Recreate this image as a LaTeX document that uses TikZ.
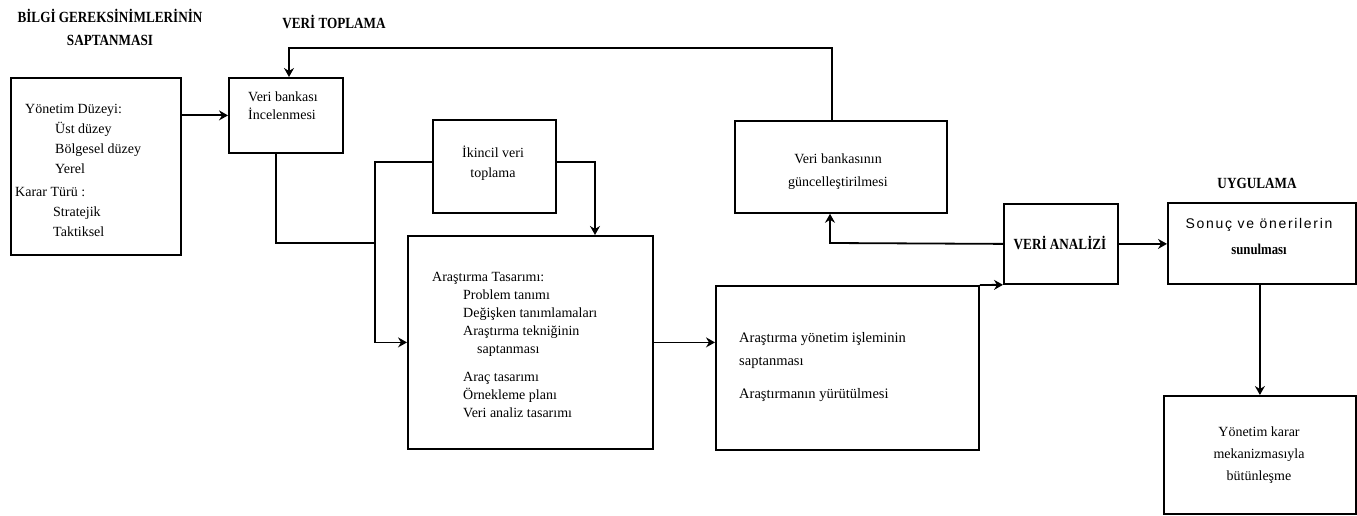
\documentclass[tikz,border=0pt]{standalone}
\usepackage{fontspec}
\setmainfont{Liberation Serif}
\newfontfamily\headfont[FakeStretch=0.85]{Liberation Serif}
\newfontfamily\spacedfont[LetterSpace=12]{Liberation Sans}
\usetikzlibrary{arrows.meta}
\begin{document}
\begin{tikzpicture}[x=1pt,y=-1pt,
  box/.style={draw, line width=1.8pt, anchor=north west, inner sep=0pt},
  conn/.style={line width=1.8pt},
  arr/.style={conn, -{Stealth[length=9pt,width=10pt,inset=3pt]}},
  txt/.style={anchor=north west, inner sep=0pt, align=left},
  ctxt/.style={inner sep=0pt, align=center},
  head/.style={inner sep=0pt, align=center, font=\headfont\bfseries\fontsize{15.5}{23}\selectfont}]
\useasboundingbox (0,0) rectangle (1357,516);

% section headings
\node[head] (h1) at (110,27) {BİLGİ GEREKSİNİMLERİNİN\\SAPTANMASI};
\node[head] (h2) at (334,22) {VERİ TOPLAMA};
\node[head] (h3) at (1257,183) {UYGULAMA};

% boxes
\node[box, minimum width=170pt, minimum height=177pt] (b1) at (10,77) {};
\node[box, minimum width=114pt, minimum height=75pt]  (b2) at (228,77) {};
\node[box, minimum width=123pt, minimum height=93pt]  (b3) at (432,119) {};
\node[box, minimum width=245pt, minimum height=213pt] (b4) at (407,235) {};
\node[box, minimum width=212pt, minimum height=92pt]  (b5) at (734,120) {};
\node[box, minimum width=263pt, minimum height=164pt] (b6) at (715,285) {};
\node[box, minimum width=114pt, minimum height=80pt]  (b7) at (1003,203) {};
\node[box, minimum width=188pt, minimum height=81pt]  (b8) at (1167,202) {};
\node[box, minimum width=192pt, minimum height=118pt] (b9) at (1163,395) {};

% box texts
\node[txt, font=\fontsize{14}{20}\selectfont] (t1) at (15,102)
  {\rule{0pt}{11pt}\hspace*{10pt}Yönetim Düzeyi:\\
   \hspace*{40pt}Üst düzey\\
   \hspace*{40pt}Bölgesel düzey\\
   \hspace*{40pt}Yerel\\[3.5pt]
   Karar Türü :\\
   \hspace*{38pt}Stratejik\\
   \hspace*{38pt}Taktiksel};
\node[txt, font=\fontsize{14}{18}\selectfont] (t2) at (248,90)
  {\rule{0pt}{11pt}Veri bankası\\İncelenmesi};
\node[ctxt, font=\fontsize{14}{20}\selectfont] (t3) at (493,163)
  {İkincil veri\\toplama};
\node[txt, font=\fontsize{14}{18}\selectfont] (t4) at (432,270)
  {\rule{0pt}{11pt}Araştırma Tasarımı:\\
   \hspace*{31pt}Problem tanımı\\
   \hspace*{31pt}Değişken tanımlamaları\\
   \hspace*{31pt}Araştırma tekniğinin\\
   \hspace*{45pt}saptanması\\[10pt]
   \hspace*{31pt}Araç tasarımı\\
   \hspace*{31pt}Örnekleme planı\\
   \hspace*{31pt}Veri analiz tasarımı};
\node[ctxt, font=\fontsize{14}{23}\selectfont] (t5) at (838,172)
  {Veri bankasının\\güncelleştirilmesi};
\node[txt, font=\fontsize{14.5}{23}\selectfont] (t6) at (739,331)
  {\rule{0pt}{11pt}Araştırma yönetim işleminin\\
   saptanması\\[10pt]
   Araştırmanın yürütülmesi};
\node[ctxt, font=\headfont\bfseries\fontsize{15.5}{16}\selectfont] (t7) at (1060,243) {VERİ ANALİZİ};
\node[ctxt, anchor=north, font=\fontsize{14}{26}\selectfont] (t8) at (1259,217)
  {\rule{0pt}{11pt}{\spacedfont Sonuç ve önerilerin}\\
   {\headfont\bfseries\fontsize{15}{15}\selectfont sunulması}};
\node[ctxt, font=\fontsize{14}{22}\selectfont] (t9) at (1259,455)
  {Yönetim karar\\mekanizmasıyla\\bütünleşme};

% connectors
\coordinate (c1) at (832,48);
\coordinate (c2) at (289,48);
\coordinate (c3) at (276,243);
\coordinate (c4) at (375,243);
\coordinate (c5) at (375,162);
\coordinate (c7) at (595,162);
\coordinate (c8) at (830,243);

\draw[arr] (b1.east |- b2.west) -- (b2.west);
\draw[arr] (b5.north -| c1) -- (c1) -- (c2) -- (c2 |- b2.north);
\draw[conn] (b2.south -| c3) -- (c3) -- (c4);
\draw[arr] (b3.west |- c5) -- (c5) -- (c5 |- b4.west) -- (b4.west);
\draw[arr] (b3.east |- c7) -- (c7) -- (c7 |- b4.north);
\draw[arr] (b4.east) -- (b4.east -| b6.west);
\draw[arr] (b6.north east) -- (b7.south west);
\draw[arr] (b7.west) -- (c8) -- (c8 |- b5.south);
\draw[arr] (b7.east) -- (b7.east -| b8.west);
\draw[arr] (b8.south -| b9.north) -- (b9.north);
\end{tikzpicture}
\end{document}
